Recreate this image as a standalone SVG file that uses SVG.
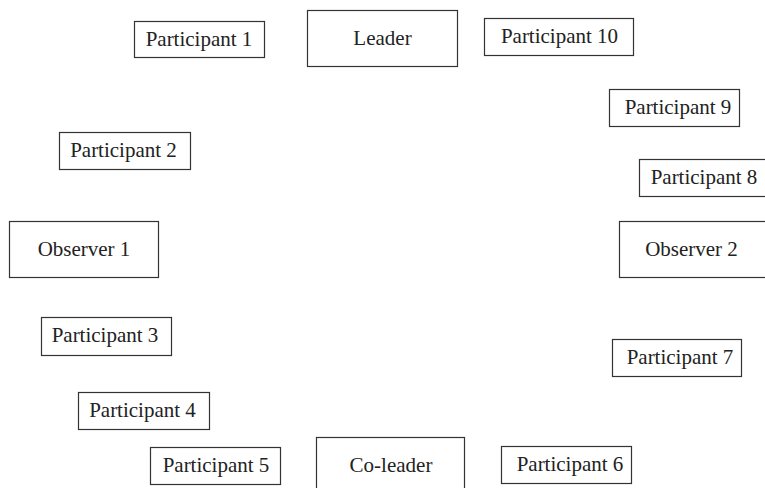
<svg xmlns="http://www.w3.org/2000/svg" width="765" height="488" viewBox="0 0 765 488">
<style>
rect.box{fill:#fff;stroke:#333;stroke-width:1.2}
text{font-family:"Liberation Serif","Times New Roman",serif;font-size:21px;fill:#222;text-anchor:middle}
</style>
<rect width="765" height="488" fill="#fff"/>
<g id="connectors"></g>
<g id="leader"><rect class="box" x="307.5" y="10.5" width="150" height="56"/><text x="382.5" y="45">Leader</text></g>
<g id="p1"><rect class="box" x="134.5" y="21.5" width="130" height="36"/><text x="199" y="46">Participant 1</text></g>
<g id="p10"><rect class="box" x="484.5" y="18.5" width="149" height="37"/><text x="559.5" y="43">Participant 10</text></g>
<g id="p9"><rect class="box" x="609.5" y="89.5" width="130" height="37"/><text x="678" y="114">Participant 9</text></g>
<g id="p2"><rect class="box" x="59.5" y="132.5" width="131" height="37"/><text x="123.5" y="157">Participant 2</text></g>
<g id="p8"><rect class="box" x="639.5" y="159.5" width="130" height="37"/><text x="704" y="184">Participant 8</text></g>
<g id="observer1"><rect class="box" x="9.5" y="221.5" width="149" height="56"/><text x="84" y="256">Observer 1</text></g>
<g id="observer2"><rect class="box" x="619.5" y="221.5" width="149" height="56"/><text x="691.5" y="256">Observer 2</text></g>
<g id="p3"><rect class="box" x="41.5" y="317.5" width="130" height="38"/><text x="105" y="342">Participant 3</text></g>
<g id="p7"><rect class="box" x="612.5" y="339.5" width="129" height="37"/><text x="680" y="364">Participant 7</text></g>
<g id="p4"><rect class="box" x="78.5" y="392.5" width="131" height="37"/><text x="142.5" y="417">Participant 4</text></g>
<g id="p5"><rect class="box" x="150.5" y="447.5" width="130" height="37"/><text x="216" y="472">Participant 5</text></g>
<g id="coleader"><rect class="box" x="316.5" y="437.5" width="148" height="56"/><text x="391" y="472">Co-leader</text></g>
<g id="p6"><rect class="box" x="501.5" y="446.5" width="130" height="37"/><text x="570" y="471">Participant 6</text></g>
</svg>
